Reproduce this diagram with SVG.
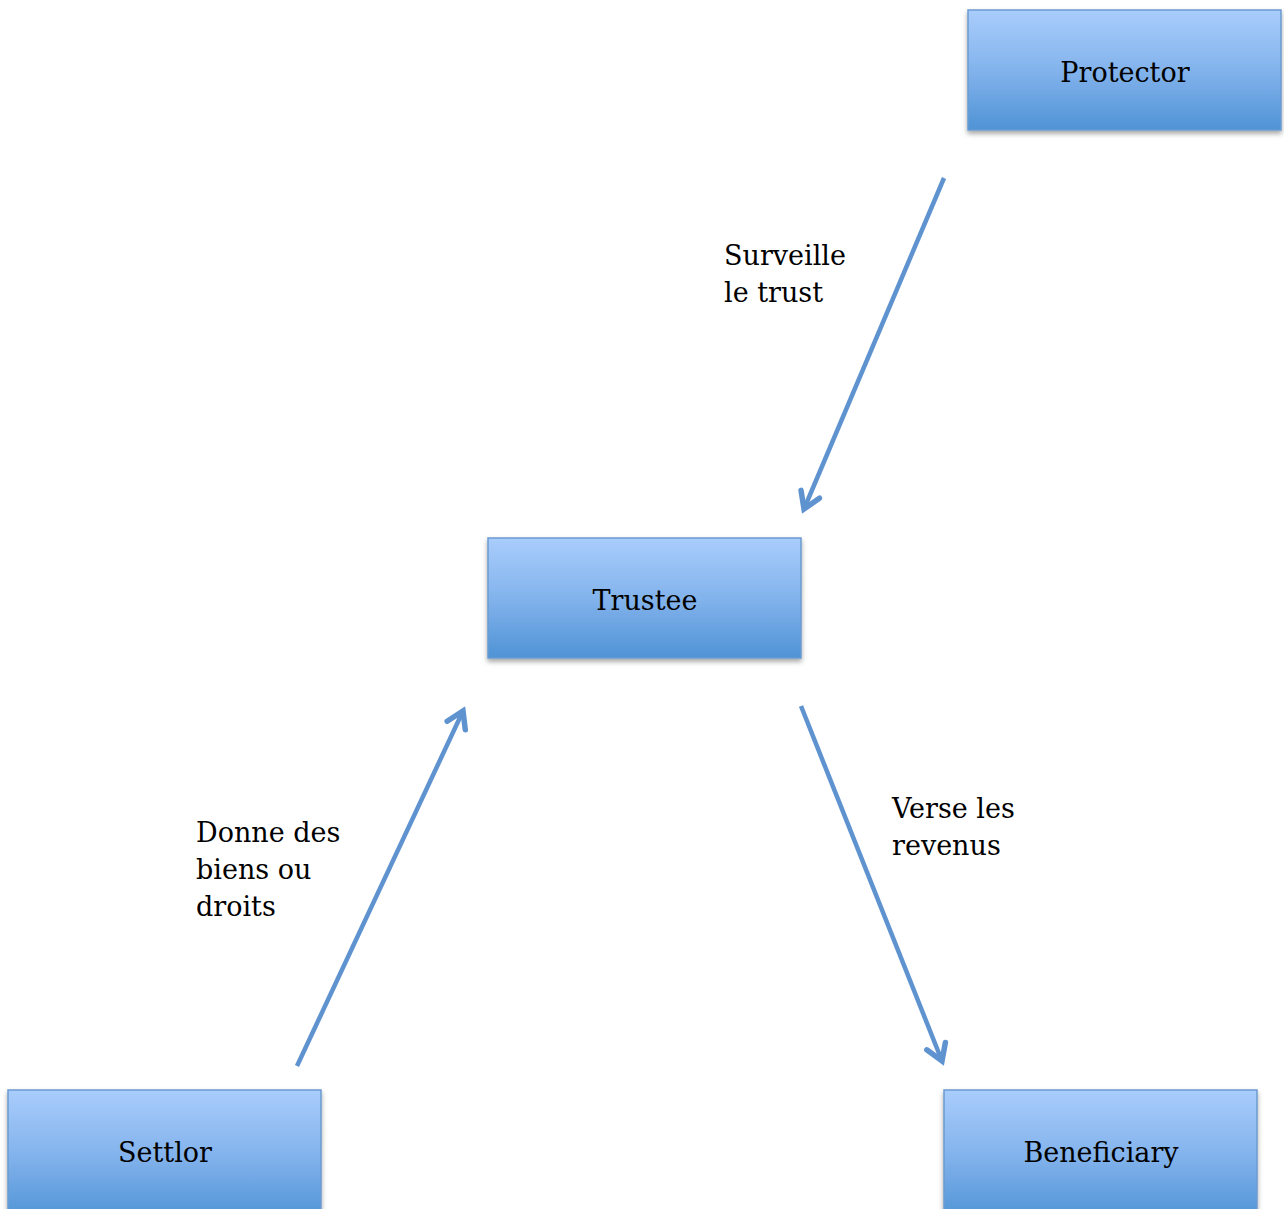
<svg xmlns="http://www.w3.org/2000/svg" width="1284" height="1209" viewBox="0 0 1284 1209">
<style>
.box{fill:url(#g);stroke:#6b9bd0;stroke-width:1.5;filter:url(#sh)}
.t{font-family:"DejaVu Serif","Liberation Serif",serif;font-size:27px;fill:#000}
.c{text-anchor:middle}
.e{fill:none;stroke:#5f93cf;stroke-width:4.5;marker-end:url(#ah)}
</style>
<defs>
<linearGradient id="g" x1="0" y1="0" x2="0" y2="1">
<stop offset="0" stop-color="#a9cdfc"/>
<stop offset="0.5" stop-color="#83b3ec"/>
<stop offset="1" stop-color="#4f93d6"/>
</linearGradient>
<filter id="sh" x="-10%" y="-10%" width="120%" height="130%">
<feDropShadow dx="0" dy="3" stdDeviation="2.5" flood-color="#000" flood-opacity="0.35"/>
</filter>
<marker id="ah" markerUnits="userSpaceOnUse" markerWidth="30" markerHeight="30" viewBox="-25 -15 30 30" refX="0" refY="0" orient="auto">
<path d="M-16,-10 L0,0 L-16,10" fill="none" stroke="#5f93cf" stroke-width="5.5" stroke-linecap="round" stroke-linejoin="miter"/>
</marker>
</defs>
<g id="edges">
<path class="e" d="M944,178 L804,509"/>
<path class="e" d="M297,1066 L463,711"/>
<path class="e" d="M801,706 L942,1061"/>
</g>
<g id="protector"><rect class="box" x="968" y="10" width="313" height="120"/><text class="t c" x="1125" y="82">Protector</text></g>
<g id="trustee"><rect class="box" x="488" y="538" width="313" height="120"/><text class="t c" x="645" y="610">Trustee</text></g>
<g id="settlor"><rect class="box" x="8" y="1090" width="313" height="130"/><text class="t c" x="165" y="1162">Settlor</text></g>
<g id="beneficiary"><rect class="box" x="944" y="1090" width="313" height="130"/><text class="t c" x="1101" y="1162">Beneficiary</text></g>
<g id="labels">
<text class="t" x="724" y="265">Surveille</text>
<text class="t" x="724" y="302">le trust</text>
<text class="t" x="196" y="842">Donne des</text>
<text class="t" x="196" y="879">biens ou</text>
<text class="t" x="196" y="916">droits</text>
<text class="t" x="892" y="818">Verse les</text>
<text class="t" x="892" y="855">revenus</text>
</g>
</svg>
